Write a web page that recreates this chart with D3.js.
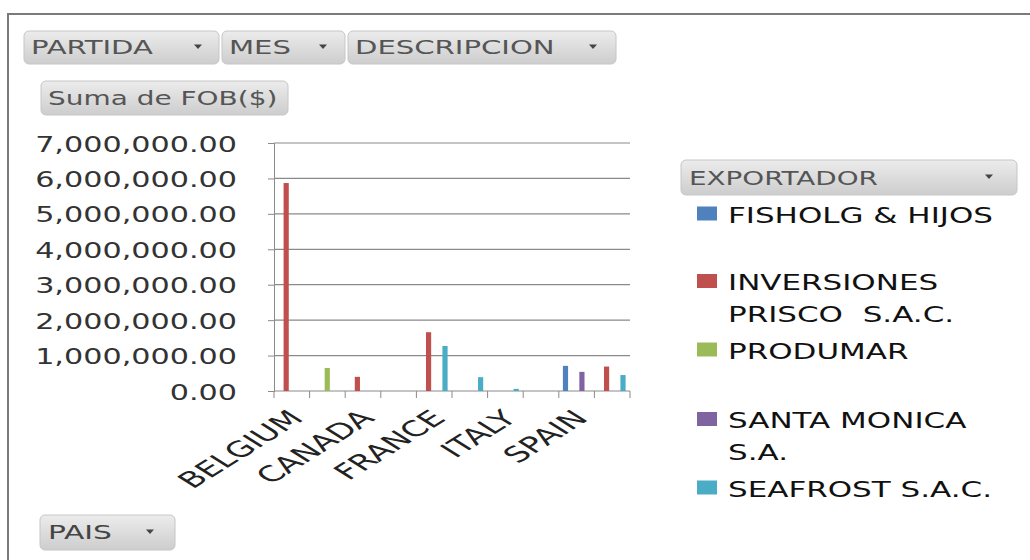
<!DOCTYPE html>
<html>
<head>
<meta charset="utf-8">
<script src="https://cdn.jsdelivr.net/npm/d3@7/dist/d3.min.js"></script>
<style>
  html, body { margin: 0; padding: 0; background: #fff; }
  svg { display: block; font-family: "DejaVu Sans", Verdana, sans-serif; }
  text { white-space: pre; }
</style>
</head>
<body>
<svg id="chart" width="1030" height="560"></svg>
<script>
// ---------- DATA ----------
const categories = ["BELGIUM", "BRAZIL", "CANADA", "CHINA", "FRANCE", "GERMANY", "ITALY", "JAPAN", "SPAIN", "USA"];
const shownLabels = ["BELGIUM", "CANADA", "FRANCE", "ITALY", "SPAIN"];
const seriesNames = ["FISHOLG & HIJOS", "INVERSIONES PRISCO  S.A.C.", "PRODUMAR", "SANTA MONICA S.A.", "SEAFROST S.A.C."];
const fisholg     = [0, 0, 0, 0, 0, 0, 0, 0, 710000, 0];
const inversiones = [5870000, 0, 400000, 0, 1660000, 0, 0, 0, 0, 690000];
const produmar    = [0, 650000, 0, 0, 0, 0, 0, 0, 0, 0];
const santaMonica = [0, 0, 0, 0, 0, 0, 0, 0, 540000, 0];
const seafrost    = [0, 0, 0, 0, 1270000, 390000, 60000, 0, 0, 450000];
const yTicks = [0, 1000000, 2000000, 3000000, 4000000, 5000000, 6000000, 7000000];
const legendLines = [["FISHOLG & HIJOS"], ["INVERSIONES", "PRISCO  S.A.C."], ["PRODUMAR"], ["SANTA MONICA", "S.A."], ["SEAFROST S.A.C."]];
const fieldButtons = ["PARTIDA", "MES", "DESCRIPCION"];

const seriesValues = [fisholg, inversiones, produmar, santaMonica, seafrost];
const colors = ["#4F81BD", "#C0504D", "#9BBB59", "#8064A2", "#4BACC6"];

// ---------- SETUP ----------
const svg = d3.select("#chart");
const defs = svg.append("defs");
const grad = defs.append("linearGradient").attr("id", "btnGrad").attr("x1", 0).attr("y1", 0).attr("x2", 0).attr("y2", 1);
grad.append("stop").attr("offset", "0%").attr("stop-color", "#ececec");
grad.append("stop").attr("offset", "100%").attr("stop-color", "#cdcdcd");

// measure helper
const meas = svg.append("text").attr("x", -1000).attr("y", -1000);
function natWidth(str, fs) {
  meas.attr("font-size", fs).text(str);
  return meas.node().getComputedTextLength();
}

// frame (top + left only)
svg.append("line").attr("x1", 8).attr("x2", 1030).attr("y1", 14).attr("y2", 14).attr("stroke", "#7a7a7a").attr("stroke-width", 2);
svg.append("line").attr("x1", 8).attr("x2", 8).attr("y1", 13).attr("y2", 560).attr("stroke", "#7a7a7a").attr("stroke-width", 2);

function button(x, y, w, h, label, opts) {
  const g = svg.append("g");
  g.append("rect").attr("x", x).attr("y", y).attr("width", w).attr("height", h)
    .attr("rx", 5).attr("fill", "url(#btnGrad)").attr("stroke", "#c6c6c6").attr("stroke-width", 1);
  g.append("text")
    .attr("transform", `translate(${x + opts.pad},${y + h / 2}) scale(${opts.sx},1)`)
    .attr("dy", "0.36em").attr("font-size", opts.fs).attr("fill", opts.color || "#555")
    .text(label);
  if (opts.arrow !== undefined) {
    const ax = x + opts.arrow, ay = y + h / 2 - 1;
    g.append("path").attr("d", `M${ax - 4},${ay - 2} L${ax + 4},${ay - 2} L${ax},${ay + 2.5} Z`).attr("fill", "#444");
  }
}

// button text stretch: "PARTIDA" ~122px wide
const btnFs = 19;
const btnSx = 122 / natWidth("PARTIDA", btnFs);

const topBtns = [
  { x: 24, w: 195, arrow: 174 },
  { x: 222, w: 123, arrow: 101 },
  { x: 348, w: 268, arrow: 245 }
];
fieldButtons.forEach((b, i) => {
  const t = topBtns[i];
  button(t.x, 31, t.w, 33, b, { pad: 7, sx: btnSx, fs: btnFs, arrow: t.arrow });
});
button(41, 81, 247, 34, "Suma de FOB($)", { pad: 7, sx: btnSx * 0.96, fs: btnFs });
const expSx = 189 / natWidth("EXPORTADOR", 20);
button(681, 160, 336, 35, "EXPORTADOR", { pad: 8, sx: expSx, fs: 20, arrow: 308 });
const paisSx = 64 / natWidth("PAIS", 19);
button(40, 515, 135, 35, "PAIS", { pad: 8, sx: paisSx, fs: 19, arrow: 110, color: "#444" });

// ---------- SCALES ----------
const x0 = 274, x1 = 630, yBase = 391, yTop = 143;
const x = d3.scaleBand().domain(categories).range([x0, x1]).paddingInner(0).paddingOuter(0);
const y = d3.scaleLinear().domain([0, 7000000]).range([yBase, yTop]);
const nS = seriesNames.length;
const barW = x.bandwidth() / (nS + 1.5);
const xs = d3.scaleBand().domain(d3.range(nS)).range([barW * 0.75, barW * 0.75 + barW * nS]);

// gridlines
svg.append("g").selectAll("line").data(yTicks.slice(1)).join("line")
  .attr("x1", x0).attr("x2", x1).attr("y1", d => y(d)).attr("y2", d => y(d))
  .attr("stroke", "#8a8a8a").attr("stroke-width", 1.2);

// y axis
const fmt = d3.format(",.2f");
const yAxis = svg.append("g").attr("transform", `translate(${x0},0)`)
  .call(d3.axisLeft(y).tickValues(yTicks).tickSize(6).tickFormat(""));
yAxis.select(".domain").attr("stroke", "#8a8a8a");
yAxis.selectAll(".tick line").attr("stroke", "#8a8a8a");
const yFs = 21;
const ySx = 202 / natWidth("7,000,000.00", yFs);
svg.append("g").selectAll("text").data(yTicks).join("text")
  .attr("transform", d => `translate(237,${y(d) + 1}) scale(${ySx},1)`)
  .attr("text-anchor", "end").attr("dy", "0.36em")
  .attr("font-size", yFs).attr("fill", "#333")
  .text(d => fmt(d));

// x axis
const xAxisG = svg.append("g").attr("transform", `translate(0,${yBase})`);
xAxisG.append("line").attr("x1", x0).attr("x2", x1).attr("stroke", "#8a8a8a");
xAxisG.selectAll("line.tk").data(categories.concat(["__end"])).join("line").attr("class", "tk")
  .attr("x1", (d, i) => x0 + i * x.bandwidth()).attr("x2", (d, i) => x0 + i * x.bandwidth())
  .attr("y1", 0).attr("y2", 7).attr("stroke", "#8a8a8a");

// bars
seriesValues.forEach((vals, si) => {
  svg.append("g").selectAll("rect").data(categories.map((c, ci) => ({ c, v: vals[ci] })).filter(d => d.v > 0))
    .join("rect")
    .attr("x", d => x(d.c) + xs(si))
    .attr("width", barW - 0.3)
    .attr("y", d => y(d.v))
    .attr("height", d => yBase - y(d.v))
    .attr("fill", colors[si]);
});

// x labels: rotated 45deg then stretched; "BELGIUM" spans ~112 x 70 px
const xFs = 21 * 99 / natWidth("BELGIUM", 21);
const xSx = 112 / (99 * Math.SQRT1_2);
svg.append("g").selectAll("text").data(categories.filter(c => shownLabels.includes(c))).join("text")
  .attr("transform", d => `translate(${x(d) + x.bandwidth() / 2 + 4},${yBase + 23}) scale(${xSx},1) rotate(-45)`)
  .attr("text-anchor", "end").attr("dy", "0.36em")
  .attr("font-size", xFs).attr("fill", "#222")
  .text(d => d);

// legend
const legSx = 265 / natWidth("FISHOLG & HIJOS", 22);
const legBase = [222.5, 290, 358.5, 428, 496.5];
legendLines.forEach((lines, i) => {
  const g = svg.append("g");
  g.append("rect").attr("x", 697).attr("y", legBase[i] - 16).attr("width", 20).attr("height", 14).attr("fill", colors[i]);
  lines.forEach((ln, j) => {
    g.append("text")
      .attr("transform", `translate(728,${legBase[i] + j * 31.5}) scale(${legSx},1)`)
      .attr("font-size", 22).attr("fill", "#111")
      .text(ln);
  });
});
meas.remove();
</script>
</body>
</html>
